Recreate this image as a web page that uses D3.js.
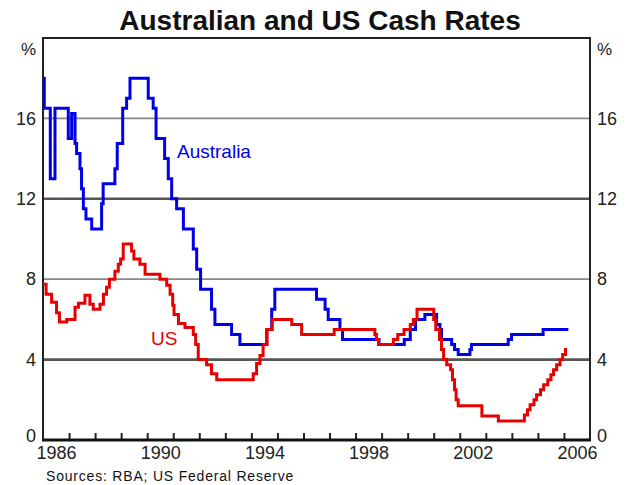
<!DOCTYPE html>
<html>
<head>
<meta charset="utf-8">
<script src="https://cdn.jsdelivr.net/npm/d3@7"></script>
<style>
  body { margin: 0; background: #fff; }
  svg { font-family: "Liberation Sans", Arial, sans-serif; }
</style>
</head>
<body>
<svg id="chart" width="627" height="485"></svg>
<script>
// cash rate step changes: decimal year of change, rate after the change (%)
var ausDates = [1986.0, 1986.05, 1986.28, 1986.46, 1986.97, 1987.1, 1987.23, 1987.29, 1987.42, 1987.48,
  1987.55, 1987.65, 1987.87, 1988.25, 1988.31, 1988.76, 1988.85, 1989.06, 1989.21, 1989.34,
  1990.04, 1990.23, 1990.34, 1990.67, 1990.81, 1990.94, 1991.13, 1991.39, 1991.77, 1991.9,
  1992.05, 1992.47, 1992.6, 1993.24, 1993.56, 1994.59, 1994.78, 1994.9, 1996.5, 1996.83,
  1996.95, 1997.4, 1997.5, 1998.9, 1999.87, 2000.1, 2000.3, 2000.66, 2001.11, 2001.24,
  2001.3, 2001.69, 2001.8, 2001.94, 2002.39, 2002.45, 2003.86, 2003.99, 2005.2, 2006.17];
var ausRates = [18.0, 16.5, 13.0, 16.5, 15.0, 16.25, 14.75, 14.25, 13.5, 12.5,
  11.5, 11.0, 10.5, 11.75, 12.75, 13.5, 14.75, 16.5, 17.0, 18.0,
  17.0, 16.5, 15.0, 14.0, 13.0, 12.0, 11.5, 10.5, 9.5, 8.5,
  7.5, 6.5, 5.75, 5.25, 4.75, 5.5, 6.5, 7.5, 7.0, 6.5,
  6.0, 5.5, 5.0, 4.75, 5.0, 5.5, 6.0, 6.25, 5.75, 5.5,
  5.0, 4.75, 4.5, 4.25, 4.5, 4.75, 5.0, 5.25, 5.5, 5.5];

var usDates = [1986.0, 1986.12, 1986.33, 1986.52, 1986.63, 1986.91, 1987.23, 1987.36, 1987.61, 1987.8,
  1987.93, 1988.19, 1988.32, 1988.44, 1988.55, 1988.76, 1988.89, 1988.98, 1989.08, 1989.4,
  1989.49, 1989.72, 1989.92, 1990.49, 1990.75, 1990.88, 1990.98, 1991.03, 1991.2, 1991.45,
  1991.77, 1991.86, 1991.96, 1992.28, 1992.47, 1992.67, 1994.07, 1994.2, 1994.33, 1994.45,
  1994.6, 1994.8, 1995.05, 1995.55, 1995.93, 1997.18, 1998.74, 1998.8, 1998.88, 1999.45,
  1999.62, 1999.86, 2000.1, 2000.22, 2000.36, 2001.0, 2001.08, 2001.22, 2001.3, 2001.38,
  2001.5, 2001.65, 2001.72, 2001.8, 2001.86, 2001.94, 2002.85, 2003.48, 2004.48, 2004.6,
  2004.7, 2004.85, 2004.95, 2005.1, 2005.22, 2005.38, 2005.5, 2005.6, 2005.72, 2005.85,
  2005.95, 2006.06, 2006.12];
var usRates = [7.75, 7.25, 6.85, 6.33, 5.87, 6.0, 6.6, 6.8, 7.2, 6.75,
  6.5, 6.75, 7.25, 7.6, 8.0, 8.4, 8.75, 9.0, 9.75, 9.4,
  9.0, 8.75, 8.25, 8.0, 7.7, 7.25, 6.7, 6.25, 5.8, 5.6,
  5.25, 4.75, 4.0, 3.75, 3.3, 3.0, 3.3, 3.8, 4.2, 4.75,
  5.5, 6.0, 6.0, 5.75, 5.25, 5.5, 5.25, 5.0, 4.75, 5.0,
  5.25, 5.5, 5.75, 6.0, 6.5, 6.0, 5.5, 5.0, 4.5, 4.0,
  3.75, 3.5, 3.0, 2.5, 2.0, 1.7, 1.2, 0.95, 1.25, 1.5,
  1.75, 2.0, 2.25, 2.5, 2.75, 3.0, 3.25, 3.5, 3.75, 4.0,
  4.25, 4.5, 4.5];

var yTicks = [0, 4, 8, 12, 16];
var yearTicks = [1987, 1988, 1989, 1990, 1991, 1992, 1993, 1994, 1995, 1996,
  1997, 1998, 1999, 2000, 2001, 2002, 2003, 2004, 2005, 2006];
var yearLabels = [1986, 1990, 1994, 1998, 2002, 2006];

var svg = d3.select('#chart');
// plot box ('top' is taken by window.top, so prefix these)
var plotL = 43, plotR = 590, plotT = 38, plotB = 440;

var x = d3.scaleLinear().domain([1986, 2007]).range([plotL, plotR]);
var y = d3.scaleLinear().domain([0, 20]).range([plotB, plotT]);

// title
svg.append('text')
  .attr('x', 320).attr('y', 30)
  .attr('text-anchor', 'middle')
  .style('font-size', '28px').style('font-weight', 'bold')
  .attr('fill', '#111')
  .text('Australian and US Cash Rates');

// horizontal grid, 4 and 12 drawn heavier
svg.append('g').selectAll('line')
  .data(yTicks.filter(function(d) { return d > 0; }))
  .enter().append('line')
  .attr('x1', plotL).attr('x2', plotR)
  .attr('y1', function(d) { return y(d); })
  .attr('y2', function(d) { return y(d); })
  .attr('stroke', function(d) { return d % 8 === 4 ? '#555' : '#888'; })
  .attr('stroke-width', function(d) { return d % 8 === 4 ? 2.6 : 1.8; });

// frame (left, top, right)
svg.append('path')
  .attr('d', 'M' + plotL + ',' + plotB + 'V' + plotT + 'H' + plotR + 'V' + plotB)
  .attr('fill', 'none').attr('stroke', '#222').attr('stroke-width', 2);

// y labels both sides
var yLeft = d3.axisLeft(y).tickValues(yTicks).tickSize(0).tickPadding(7);
var yRight = d3.axisRight(y).tickValues(yTicks).tickSize(0).tickPadding(7);
svg.append('g').attr('transform', 'translate(' + plotL + ',0)').call(yLeft);
svg.append('g').attr('transform', 'translate(' + plotR + ',0)').call(yRight);
svg.selectAll('.tick text').style('font-size', '18px').attr('fill', '#222');
svg.selectAll('.domain').remove();
// zero labels sit a touch above the axis
svg.selectAll('.tick').filter(function(d) { return d === 0; })
  .select('text').attr('dy', '0.1em');

svg.append('text').attr('x', 36).attr('y', 55).attr('text-anchor', 'end')
  .style('font-size', '17px').attr('fill', '#222').text('%');
svg.append('text').attr('x', 597).attr('y', 55)
  .style('font-size', '17px').attr('fill', '#222').text('%');

// series
var line = d3.line()
  .x(function(d) { return x(d[0]); })
  .y(function(d) { return y(d[1]); })
  .curve(d3.curveStepAfter);

svg.append('path')
  .datum(d3.zip(ausDates, ausRates))
  .attr('d', line)
  .attr('fill', 'none').attr('stroke', '#0000e6').attr('stroke-width', 3);

svg.append('path')
  .datum(d3.zip(usDates, usRates))
  .attr('d', line)
  .attr('fill', 'none').attr('stroke', '#e60000').attr('stroke-width', 3);

// x axis: year ticks pointing up, labels centred in each year
var xTickAxis = d3.axisBottom(x).tickValues(yearTicks).tickSize(-7).tickFormat('');
var gx = svg.append('g').attr('transform', 'translate(0,' + plotB + ')').call(xTickAxis);
gx.selectAll('.tick line').attr('stroke', '#222').attr('stroke-width', 2);
gx.select('.domain').remove();

svg.append('line')
  .attr('x1', plotL - 1).attr('x2', plotR + 1)
  .attr('y1', plotB).attr('y2', plotB)
  .attr('stroke', '#111').attr('stroke-width', 3);

var xLabelAxis = d3.axisBottom(x)
  .tickValues(yearLabels.map(function(d) { return d + 0.5; }))
  .tickSize(0).tickPadding(6)
  .tickFormat(function(d) { return String(Math.floor(d)); });
var gl = svg.append('g').attr('transform', 'translate(0,' + plotB + ')').call(xLabelAxis);
gl.select('.domain').remove();
gl.selectAll('text').style('font-size', '18px').attr('fill', '#222');

// series labels
svg.append('text').attr('x', 177).attr('y', 158)
  .style('font-size', '19px').attr('fill', '#0000e6').text('Australia');
svg.append('text').attr('x', 151).attr('y', 345)
  .style('font-size', '19px').attr('fill', '#e60000').text('US');

// source note
svg.append('text').attr('x', 46).attr('y', 481)
  .style('font-size', '14px').style('letter-spacing', '0.8px').attr('fill', '#111')
  .text('Sources: RBA; US Federal Reserve');
</script>
</body>
</html>
